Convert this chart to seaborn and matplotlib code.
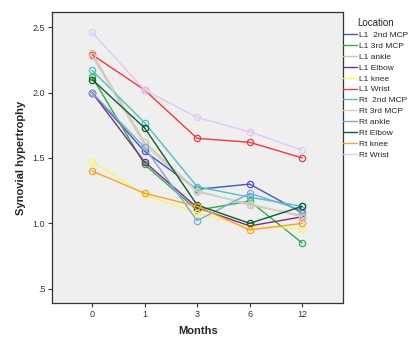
import pandas as pd
import seaborn as sns
import matplotlib.pyplot as plt
from matplotlib.lines import Line2D

months = ['0', '1', '3', '6', '12']
locations = ['L1  2nd MCP', 'L1 3rd MCP', 'L1 ankle', 'L1 Elbow', 'L1 knee', 'L1 Wrist',
             'Rt  2nd MCP', 'Rt 3rd MCP', 'Rt ankle', 'Rt Elbow', 'Rt knee', 'Rt Wrist']

l1_2nd_mcp = [2.00, 1.55, 1.26, 1.30, 1.08]
l1_3rd_mcp = [2.12, 1.45, 1.10, 1.17, 0.85]
l1_ankle = [2.30, 1.62, 1.25, 1.14, 1.06]
l1_elbow = [2.00, 1.47, 1.12, 0.98, 1.05]
l1_knee = [1.47, 1.22, 1.08, 0.97, 0.96]
l1_wrist = [2.29, 2.02, 1.65, 1.62, 1.50]
rt_2nd_mcp = [2.17, 1.77, 1.28, 1.20, 1.13]
rt_3rd_mcp = [2.28, 1.60, 1.24, 1.15, 1.05]
rt_ankle = [2.00, 1.58, 1.02, 1.23, 1.10]
rt_elbow = [2.10, 1.73, 1.14, 1.00, 1.13]
rt_knee = [1.40, 1.23, 1.13, 0.95, 1.00]
rt_wrist = [2.46, 2.02, 1.81, 1.70, 1.56]

series = [l1_2nd_mcp, l1_3rd_mcp, l1_ankle, l1_elbow, l1_knee, l1_wrist,
          rt_2nd_mcp, rt_3rd_mcp, rt_ankle, rt_elbow, rt_knee, rt_wrist]

colors = ['#4a52c0', '#2eb040', '#cfc99a', '#7b2a90', '#f8f46a', '#ef3a3a',
          '#48c2c5', '#cfcfcf', '#7aaad8', '#0f5a30', '#f8a030', '#e3c6f6']

rows = []
for loc, vals in zip(locations, series):
    for m, v in zip(months, vals):
        rows.append({'Months': m, 'Synovial hypertrophy': v, 'Location': loc})
df = pd.DataFrame(rows)

sns.set_style('white')
plt.rcParams['font.family'] = ['Liberation Sans', 'DejaVu Sans']

fig = plt.figure(figsize=(4.17, 3.5), dpi=100)
ax = fig.add_axes([0.125, 0.134, 0.698, 0.832])
ax.set_facecolor('#efefef')

sns.lineplot(data=df, x='Months', y='Synovial hypertrophy', hue='Location',
             palette=colors, hue_order=locations, sort=False, marker='o',
             markersize=4.5, markerfacecolor='none', markeredgewidth=0.9,
             linewidth=1.0, legend=False, ax=ax)
# seaborn keeps marker edge colour default; set to line colour
for line in ax.get_lines():
    line.set_markeredgecolor(line.get_color())

ax.set_xlim(-0.76, 4.78)
ax.set_ylim(0.39, 2.617)
ax.set_yticks([0.5, 1.0, 1.5, 2.0, 2.5])
ax.set_yticklabels(['.5', '1.0', '1.5', '2.0', '2.5'])
ax.tick_params(axis='both', labelsize=6.5, colors='#333333', length=3, width=0.8,
               direction='out', left=True, bottom=True, pad=2)
ax.set_xlabel('Months', fontsize=8, fontweight='bold', labelpad=5)
ax.set_ylabel('Synovial hypertrophy', fontsize=8, fontweight='bold', labelpad=5)
for s in ax.spines.values():
    s.set_color('#333333')
    s.set_linewidth(0.9)

handles = [Line2D([0], [0], color=c, lw=1.0) for c in colors]
leg = fig.legend(handles, locations, title='Location', loc='upper left',
                 bbox_to_anchor=(0.805, 0.97), frameon=False, fontsize=6,
                 title_fontsize=7, handlelength=1.6, handletextpad=0.3,
                 labelspacing=0.37)

fig.savefig('out.png', dpi=100)
